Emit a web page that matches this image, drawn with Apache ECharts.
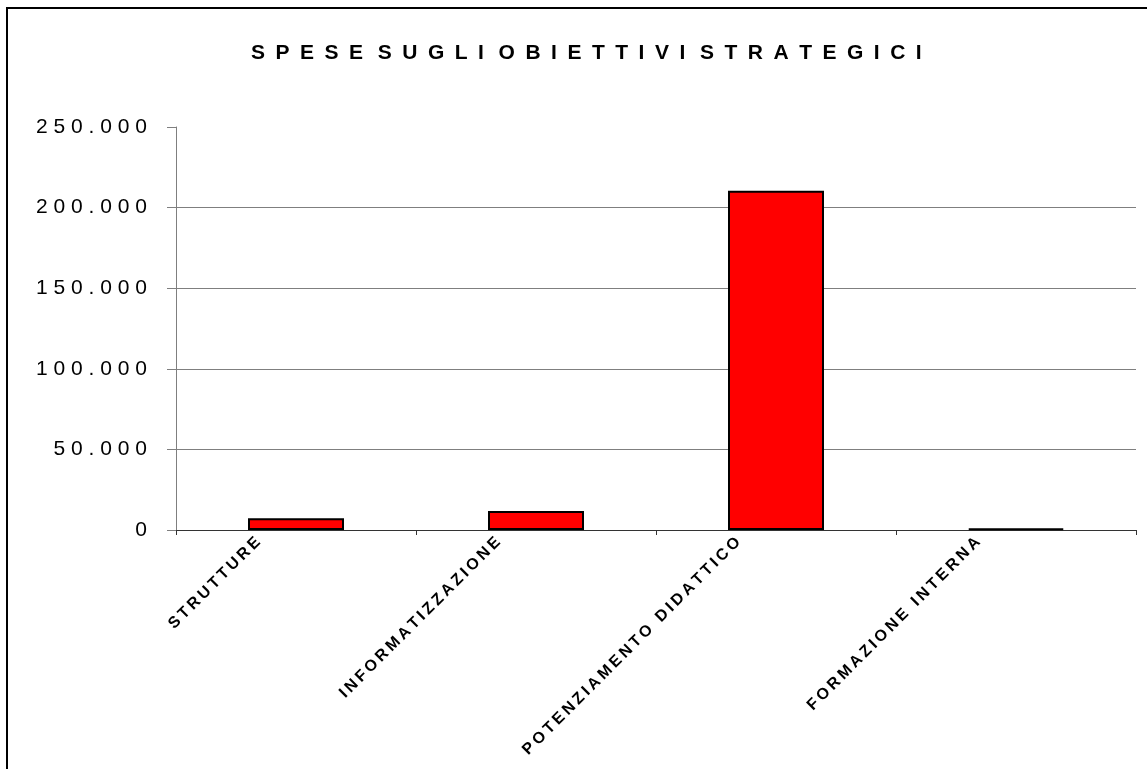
<!DOCTYPE html>
<html>
<head>
<meta charset="utf-8">
<script src="https://cdn.jsdelivr.net/npm/echarts@6/dist/echarts.min.js"></script>
<style>
  html, body { margin: 0; padding: 0; background: #fff; }
  #chart { width: 1147px; height: 769px; }
</style>
</head>
<body>
<div id="chart"></div>
<script>
// values
const categories = ['STRUTTURE', 'INFORMATIZZAZIONE', 'POTENZIAMENTO DIDATTICO', 'FORMAZIONE INTERNA']
const spese = [7300, 11800, 210500, 900]
const chartTitle = 'SPESE SUGLI OBIETTIVI STRATEGICI'

// the original chart spreads its letters out
const spread = (s, gap) => s.split('').join(gap)
const itNumber = v => String(v).replace(/\B(?=(\d{3})+(?!\d))/g, '.')

const chart = echarts.init(document.getElementById('chart'))

chart.setOption({
  backgroundColor: '#fff',
  animation: false,
  title: {
    text: chartTitle.split(' ').map(w => spread(w, '\u2002')).join('\u2002\u2009'),
    left: 246, top: 38,
    textStyle: { fontFamily: 'Liberation Sans, Arial', fontSize: 21, fontWeight: 'bold', color: '#000' }
  },
  graphic: [{
    type: 'rect', silent: true,
    shape: { x: 7, y: 8, width: 1200, height: 800 },
    style: { fill: 'none', stroke: '#000', lineWidth: 2 }
  }],
  grid: { left: 176, right: 11, top: 127, bottom: 239 },
  xAxis: {
    type: 'category',
    data: categories,
    axisLine: { lineStyle: { color: '#333', width: 1 } },
    axisTick: { show: true, length: 5, interval: 0, lineStyle: { color: '#333' } },
    axisLabel: {
      interval: 0, rotate: 45, margin: 7,
      verticalAlign: 'bottom',
      padding: [0, 29, 17, 0],
      fontFamily: 'Liberation Sans, Arial', fontSize: 16, fontWeight: 'bold', color: '#000',
      formatter: name => spread(name, '\u2009')
    }
  },
  yAxis: {
    type: 'value', min: 0, max: 250000, interval: 50000,
    axisLine: { show: true, lineStyle: { color: '#7f7f7f' } },
    axisTick: { show: true, length: 9, lineStyle: { color: '#7f7f7f' } },
    splitLine: { show: true, showMaxLine: false, lineStyle: { color: '#7f7f7f', width: 1 } },
    axisLabel: {
      margin: 29,
      fontFamily: 'Liberation Sans, Arial', fontSize: 21, color: '#000',
      formatter: v => spread(itNumber(v), ' ')
    }
  },
  series: [{
    type: 'bar',
    data: spese,
    barWidth: '40%',
    itemStyle: { color: '#ff0000', borderColor: '#000', borderWidth: 2 }
  }]
})
</script>
</body>
</html>
